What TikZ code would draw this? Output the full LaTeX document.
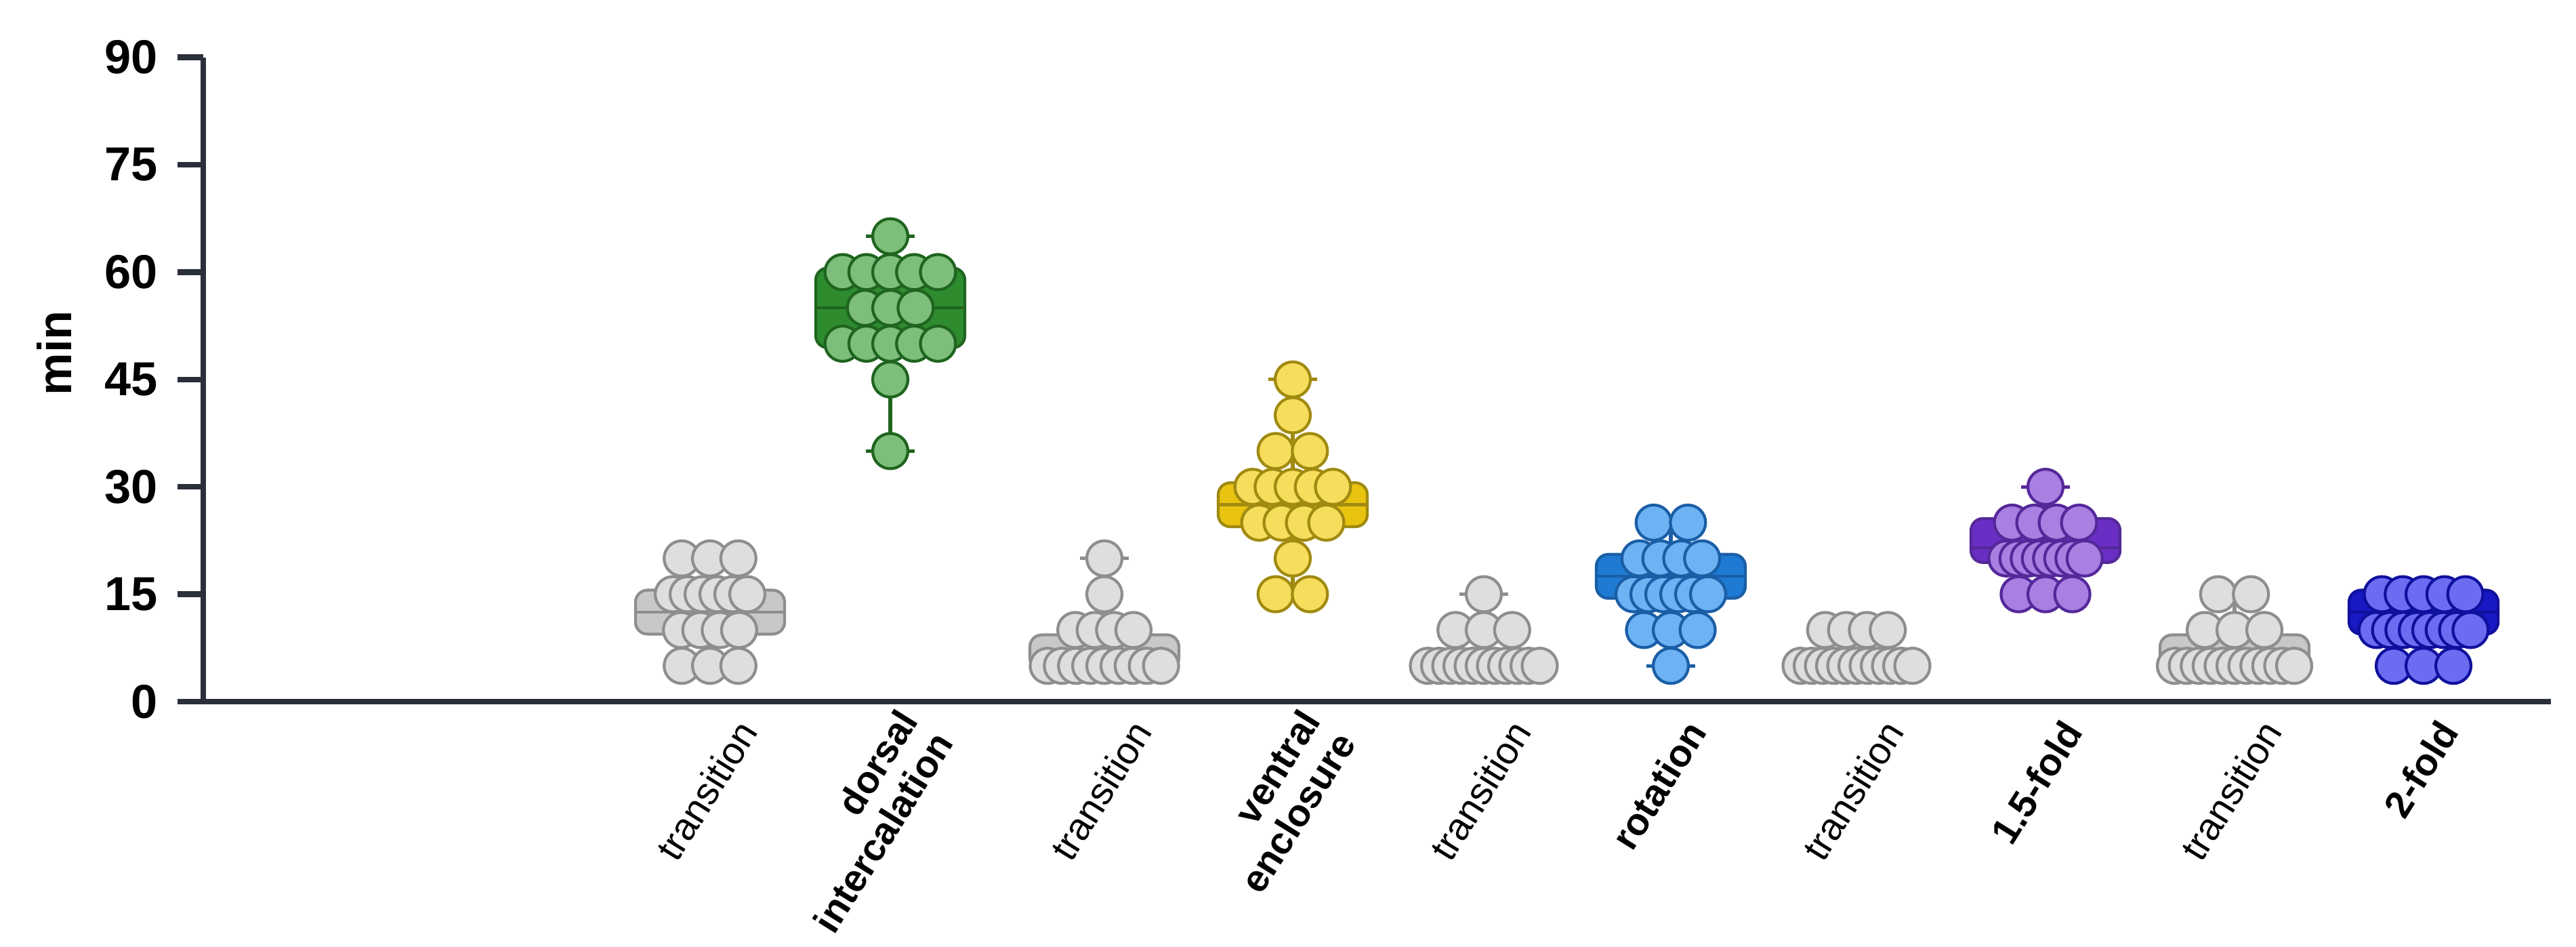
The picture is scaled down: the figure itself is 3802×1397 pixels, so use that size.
\documentclass[tikz,border=0pt]{standalone}
\usepackage{fontspec}
\setmainfont{Liberation Sans}
\definecolor{axc}{HTML}{2B2F3A}
\definecolor{grayd}{HTML}{DEDEDE}\definecolor{graye}{HTML}{8E8E8E}\definecolor{grayb}{HTML}{C8C8C8}
\definecolor{greend}{HTML}{7DBF7A}\definecolor{greene}{HTML}{1F641F}\definecolor{greenb}{HTML}{2E8B2E}
\definecolor{yellowd}{HTML}{F6DD5C}\definecolor{yellowe}{HTML}{A08A10}\definecolor{yellowb}{HTML}{E8C410}
\definecolor{blued}{HTML}{6DB2F2}\definecolor{bluee}{HTML}{1A5EA6}\definecolor{blueb}{HTML}{1E7AD2}
\definecolor{purpled}{HTML}{A880E2}\definecolor{purplee}{HTML}{55289A}\definecolor{purpleb}{HTML}{6A2EC4}
\definecolor{indigod}{HTML}{6C6CF2}\definecolor{indigoe}{HTML}{10109E}\definecolor{indigob}{HTML}{1818C4}
\newcommand\yv[1]{362+10.56*#1}
\newcommand\drow[5]{\foreach \i in {1,...,#3}{\draw[dot,fill=#5d,draw=#5e] ({#1+1.1*(\i-(#3+1)/2)*#4},{\yv{#2}}) circle (26);}}
\newcommand\bxp[5]{\filldraw[boxs,fill=#5b,draw=#5e] ({#1-110},{\yv{#2}-6}) rectangle ({#1+110},{\yv{#4}+6});
 \draw[#5e,line width=1.2pt] ({#1-108},{\yv{#3}}) -- ({#1+108},{\yv{#3}});}
\newcommand\whk[4]{\draw[#4e,line width=1.5pt] (#1,{\yv{#2}}) -- (#1,{\yv{#3}});
 \draw[#4e,line width=1.5pt] ({#1-36},{\yv{#2}}) -- ({#1+36},{\yv{#2}}) ({#1-36},{\yv{#3}}) -- ({#1+36},{\yv{#3}});}
\begin{document}
\begin{tikzpicture}[x=0.01cm,y=0.01cm,
 dot/.style={line width=1.2pt},
 boxs/.style={line width=1.2pt,rounded corners=5},
 tick/.style={font=\bfseries\fontsize{20}{23}\selectfont,anchor=east},
 cat/.style={font=\fontsize{16}{17.5}\selectfont,rotate=58,anchor=east,align=right},
 catb/.style={cat,font=\bfseries\fontsize{16}{17.5}\selectfont}]
\useasboundingbox (0,0) rectangle (3802,1397);
% axes
\draw[axc,line width=2.4pt] (300,{\yv{90}}) -- (300,362);
\draw[axc,line width=2.4pt] (262,362) -- (3765,362);
\foreach \v in {15,30,...,90}{\draw[axc,line width=2.4pt] (262,{\yv{\v}}) -- (300,{\yv{\v}});}
\foreach \v in {0,15,...,90}{\node[tick] (t\v) at (245,{\yv{\v}}) {\v};}
\node[font=\bfseries\fontsize{20}{23}\selectfont,rotate=90] (ylab) at (80,876) {min};
% G1 transition
\bxp{1048}{10}{12.5}{15}{gray}\whk{1048}{5}{20}{gray}
\drow{1048}{20}{3}{38}{gray}\drow{1048}{15}{6}{20}{gray}\drow{1048}{10}{4}{26}{gray}\drow{1048}{5}{3}{38}{gray}
% G2 dorsal
\bxp{1314}{50}{55}{60}{green}\whk{1314}{35}{65}{green}
\drow{1314}{65}{1}{0}{green}\drow{1314}{60}{5}{32}{green}\drow{1314}{55}{3}{34}{green}\drow{1314}{50}{5}{32}{green}\drow{1314}{45}{1}{0}{green}\drow{1314}{35}{1}{0}{green}
% G3 transition
\bxp{1630}{5}{5}{8.75}{gray}\whk{1630}{5}{20}{gray}
\drow{1630}{20}{1}{0}{gray}\drow{1630}{15}{1}{0}{gray}\drow{1630}{10}{4}{26}{gray}\drow{1630}{5}{9}{19}{gray}
% G4 ventral
\bxp{1908}{25}{27.5}{30}{yellow}\whk{1908}{15}{45}{yellow}
\drow{1908}{45}{1}{0}{yellow}\drow{1908}{40}{1}{0}{yellow}\drow{1908}{35}{2}{46}{yellow}\drow{1908}{30}{5}{27}{yellow}\drow{1908}{25}{4}{30}{yellow}\drow{1908}{20}{1}{0}{yellow}\drow{1908}{15}{2}{46}{yellow}
% G5 transition
\whk{2190}{5}{15}{gray}
\drow{2190}{15}{1}{0}{gray}\drow{2190}{10}{3}{38}{gray}\drow{2190}{5}{11}{15}{gray}
% G6 rotation
\bxp{2466}{15}{17.5}{20}{blue}\whk{2466}{5}{25}{blue}
\drow{2466}{25}{2}{46}{blue}\drow{2466}{20}{4}{28}{blue}\drow{2466}{15}{6}{20}{blue}\drow{2466}{10}{3}{36}{blue}\drow{2466}{5}{1}{0}{blue}
% G7 transition
\drow{2740}{10}{4}{28}{gray}\drow{2740}{5}{11}{15}{gray}
% G8 1.5-fold
\bxp{3019}{20}{21.5}{25}{purple}\whk{3019}{15}{30}{purple}
\drow{3019}{30}{1}{0}{purple}\drow{3019}{25}{4}{30}{purple}\drow{3019}{20}{8}{15}{purple}\drow{3019}{15}{3}{36}{purple}
% G9 transition
\bxp{3298}{5}{5}{8.75}{gray}\whk{3298}{5}{15}{gray}
\drow{3298}{15}{2}{44}{gray}\drow{3298}{10}{3}{40}{gray}\drow{3298}{5}{11}{16}{gray}
% G10 2-fold
\bxp{3577}{10}{12.5}{15}{indigo}\whk{3577}{5}{15}{indigo}
\drow{3577}{15}{5}{28}{indigo}\drow{3577}{10}{8}{18}{indigo}\drow{3577}{5}{3}{40}{indigo}
% category labels
\node[cat] (c1) at (1110,338) {transition};
\node[catb] (c2) at (1372,338) {dorsal\\intercalation};
\node[cat] (c3) at (1692,338) {transition};
\node[catb] (c4) at (1966,338) {ventral\\enclosure};
\node[cat] (c5) at (2252,338) {transition};
\node[catb] (c6) at (2510,338) {rotation};
\node[cat] (c7) at (2802,338) {transition};
\node[catb] (c8) at (3065,338) {1.5-fold};
\node[cat] (c9) at (3360,338) {transition};
\node[catb] (c10) at (3620,338) {2-fold};
\end{tikzpicture}
\end{document}
